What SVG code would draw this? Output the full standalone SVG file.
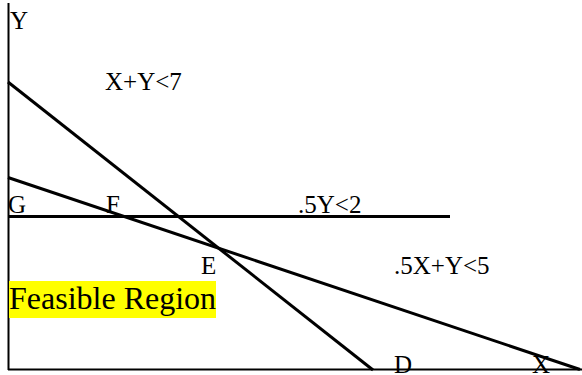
<svg xmlns="http://www.w3.org/2000/svg" width="582" height="375" viewBox="0 0 582 375">
<style>
.t{font-family:'Liberation Serif','Times New Roman',serif;font-size:25px;fill:#000}
.big{font-size:32px}
.ax{stroke:#000;stroke-width:2;fill:none}
.ln{stroke:#000;stroke-width:3;fill:none}
</style>
<rect width="582" height="375" fill="#fff"/>
<g id="connectors">
<line class="ax" x1="8.5" y1="3" x2="8.5" y2="370"/>
<line class="ax" x1="8" y1="369.5" x2="582" y2="369.5"/>
<line class="ln" x1="8" y1="82" x2="373" y2="370"/>
<line class="ln" x1="8" y1="177.5" x2="580" y2="369.5"/>
<line class="ln" x1="8" y1="216.5" x2="450" y2="216.5" stroke-width="4"/>
</g>
<g id="labels">
<text class="t" x="10" y="29">Y</text>
<text class="t" x="105" y="90">X+Y&lt;7</text>
<text class="t" x="8" y="213">G</text>
<text class="t" x="106" y="213">F</text>
<text class="t" x="298" y="213">.5Y&lt;2</text>
<text class="t" x="201" y="274">E</text>
<text class="t" x="394" y="274">.5X+Y&lt;5</text>
<text class="t" x="394" y="373">D</text>
<text class="t" x="532" y="373">X</text>
</g>
<g id="feasible">
<rect x="9" y="281" width="207" height="37" fill="#ffff00"/>
<text class="t big" x="9" y="309">Feasible Region</text>
</g>
</svg>
